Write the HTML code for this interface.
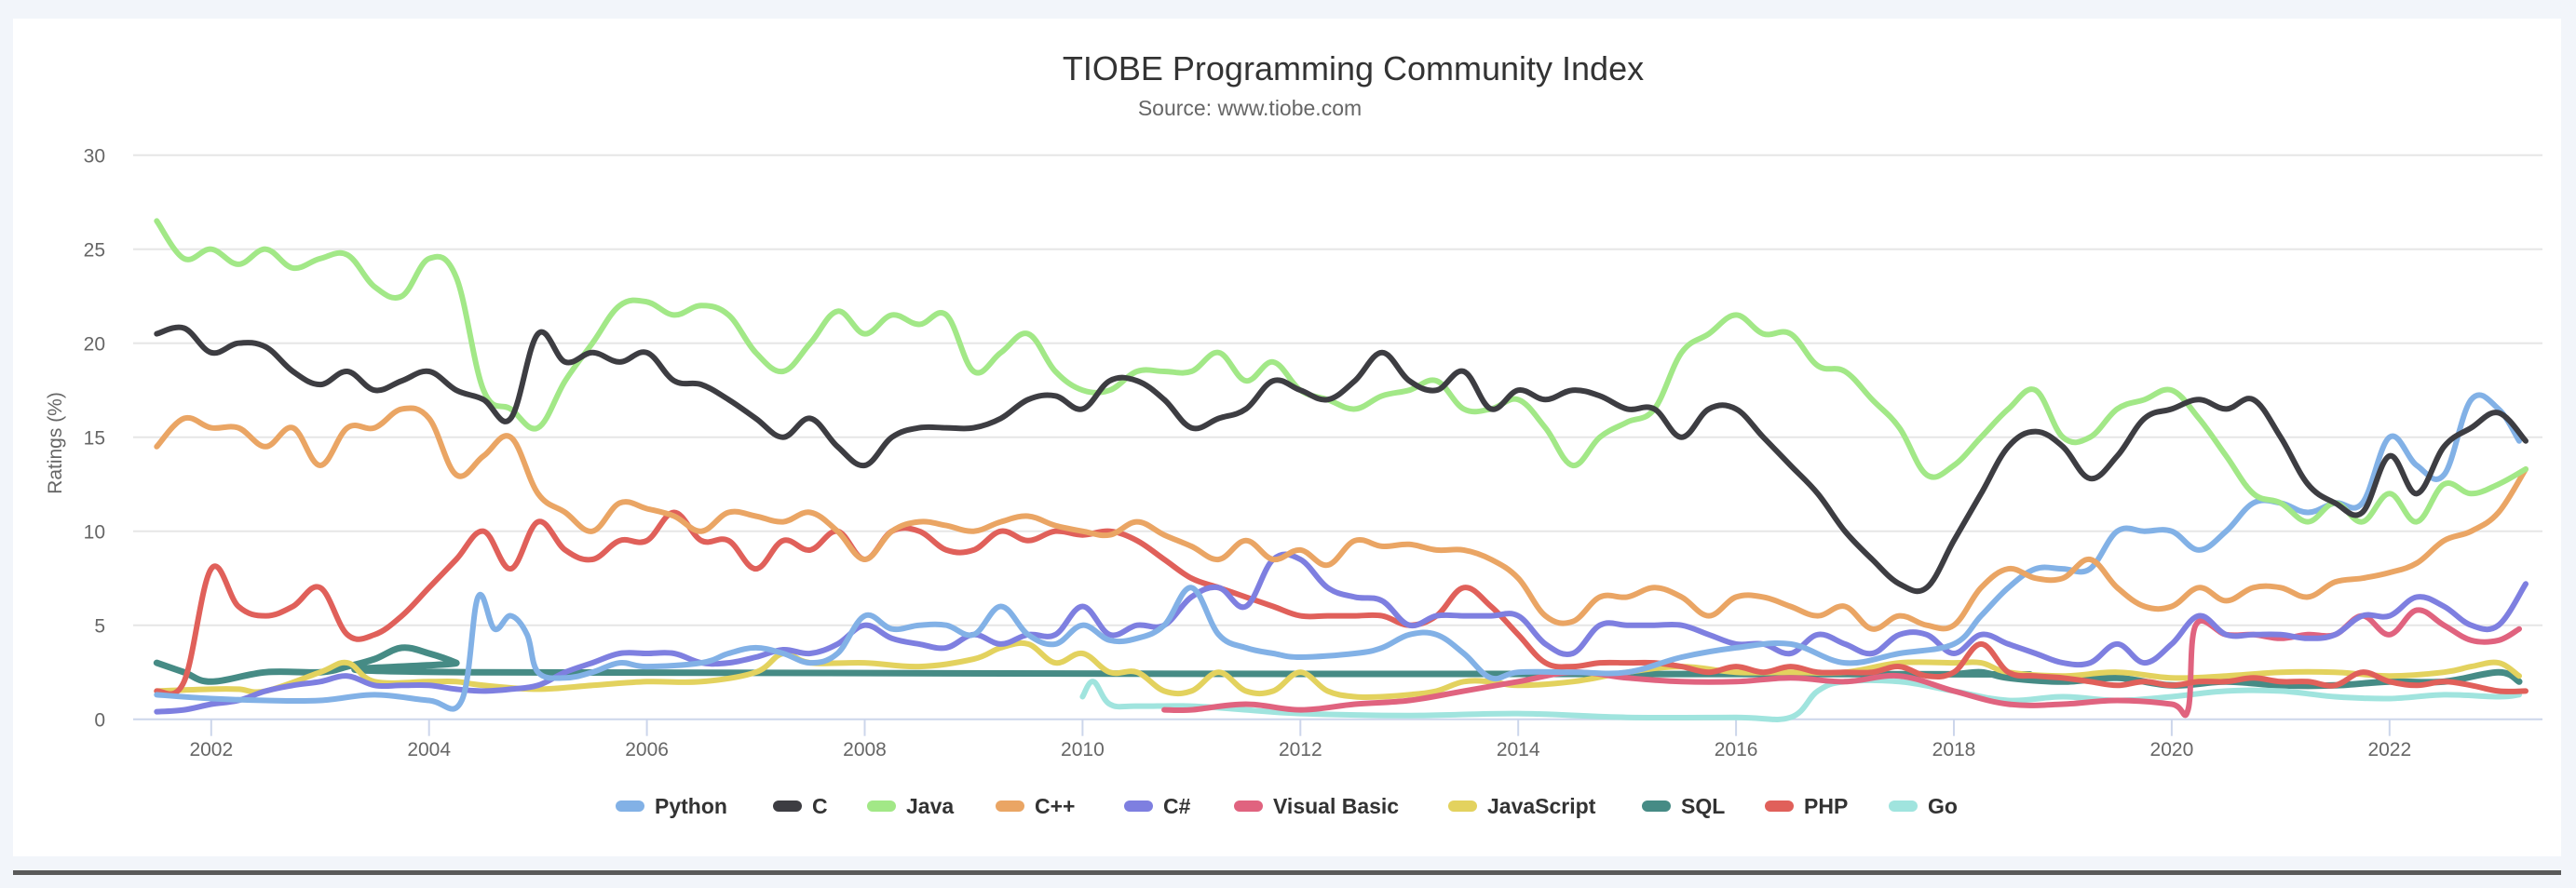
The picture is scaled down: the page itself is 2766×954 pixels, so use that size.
<!DOCTYPE html>
<html><head><meta charset="utf-8"><style>
html,body{margin:0;padding:0;background:#f2f5fa;}
body{width:2766px;height:954px;position:relative;overflow:hidden;font-family:"Liberation Sans",sans-serif;}
#card{position:absolute;left:14px;top:20px;width:2736px;height:900px;background:#fff;}
#bottomline{position:absolute;left:14px;top:935px;width:2736px;height:5px;background:#5a5a5a;}
svg{position:absolute;left:0;top:0;}
</style></head><body>
<div id="card"></div>
<div id="bottomline"></div>
<svg id="chart" width="2766" height="954">
<text x="1453" y="86" text-anchor="middle" font-size="36" fill="#333">TIOBE Programming Community Index</text>
<text x="1342" y="124" text-anchor="middle" font-size="23" fill="#666">Source: www.tiobe.com</text>
<text transform="translate(66,476) rotate(-90)" text-anchor="middle" font-size="21" fill="#666">Ratings (%)</text>
<g id="grid"></g><g id="series"></g><g id="legend"></g>
</svg>
<script>
const yTicks=[0,5,10,15,20,25,30];
const xTicks=[2002,2004,2006,2008,2010,2012,2014,2016,2018,2020,2022];
const seriesNames=["Python","C","Java","C++","C#","Visual Basic","JavaScript","SQL","PHP","Go"];
const seriesColors=["#82b1e6","#3d3d42","#a2e887","#eaa564","#7e7fe0","#e0637f","#e3d25e","#468b85","#e0605a","#a0e4de"];
const q=[];for(let y=2001.5;y<=2023.26;y+=0.25)q.push(+y.toFixed(2));
const pythonYears=[2001.5,2002,2002.5,2003,2003.5,2004,2004.3,2004.45,2004.6,2004.75,2004.9,2005,2005.25,2005.5,2005.75,2006,2006.5,2006.75,2007,2007.25,2007.5,2007.75,2008,2008.25,2008.5,2008.75,2009,2009.25,2009.5,2009.75,2010,2010.25,2010.5,2010.75,2011,2011.25,2011.5,2011.75,2012,2012.5,2012.75,2013,2013.25,2013.5,2013.75,2014,2014.5,2015,2015.5,2016,2016.5,2017,2017.5,2018,2018.25,2018.5,2018.75,2019,2019.25,2019.5,2019.75,2020,2020.25,2020.5,2020.75,2021,2021.25,2021.5,2021.75,2022,2022.25,2022.5,2022.75,2023,2023.19];
const pythonValues=[1.3,1.1,1,1,1.3,1.0,1.0,6.5,4.8,5.5,4.5,2.5,2.2,2.5,3,2.8,3,3.5,3.8,3.5,3,3.5,5.5,4.8,5,5,4.5,6,4.5,4,5,4.2,4.3,5,7,4.5,3.8,3.5,3.3,3.5,3.8,4.5,4.5,3.5,2.2,2.5,2.5,2.5,3.3,3.8,4,3,3.5,4,5.5,7,8,8,8,10,10,10,9,10,11.5,11.5,11,11.5,11.5,15,13.5,13,17,16.5,14.8];
const cValues=[20.5,20.8,19.5,20,19.8,18.5,17.8,18.5,17.5,18,18.5,17.5,17,16,20.5,19,19.5,19,19.5,18,17.8,17,16,15,16,14.5,13.5,15,15.5,15.5,15.5,16,17,17.2,16.5,18,18,17,15.5,16,16.5,18,17.5,17,18,19.5,18,17.5,18.5,16.5,17.5,17,17.5,17.2,16.5,16.5,15,16.5,16.5,15,13.5,12,10,8.5,7.2,7,9.5,12,14.5,15.3,14.5,12.8,14,16,16.5,17,16.5,17,15,12.5,11.5,11,14,12,14.5,15.5,16.3,14.8];
const javaValues=[26.5,24.5,25,24.2,25,24,24.5,24.7,23,22.5,24.5,23.5,17.5,16.5,15.5,18,20,22,22.2,21.5,22,21.5,19.5,18.5,20,21.7,20.5,21.5,21,21.5,18.5,19.5,20.5,18.5,17.5,17.5,18.5,18.5,18.5,19.5,18,19,17.5,17,16.5,17.2,17.5,18,16.5,16.5,17,15.5,13.5,15,15.8,16.5,19.5,20.5,21.5,20.5,20.5,18.8,18.5,17,15.5,13,13.5,15,16.5,17.5,15,15,16.5,17,17.5,16,14,12,11.5,10.5,11.5,10.5,12,10.5,12.5,12,12.5,13.3];
const cppValues=[14.5,16,15.5,15.5,14.5,15.5,13.5,15.5,15.5,16.5,16,13,14,15,12,11,10,11.5,11.2,10.8,10,11,10.8,10.5,11,10,8.5,10,10.5,10.3,10,10.5,10.8,10.3,10,9.8,10.5,9.8,9.2,8.5,9.5,8.5,9,8.2,9.5,9.2,9.3,9,9,8.5,7.5,5.5,5.2,6.5,6.5,7,6.5,5.5,6.5,6.5,6,5.5,6,4.8,5.5,5,5,7,8,7.5,7.5,8.5,7,6,6,7,6.3,7,7,6.5,7.3,7.5,7.8,8.3,9.5,10,11,13.3];
const csharpValues=[0.4,0.5,0.8,1,1.5,1.8,2,2.3,1.8,1.8,1.8,1.6,1.5,1.6,1.8,2.5,3,3.5,3.5,3.5,3,3,3.3,3.7,3.5,4,5,4.3,4,3.8,4.5,4,4.5,4.5,6,4.5,5,5,6.5,7,6,8.5,8.5,7,6.5,6.3,5,5.5,5.5,5.5,5.5,4,3.5,5,5,5,5,4.5,4,4,3.5,4.5,4,3.5,4.5,4.5,3.5,4.5,4,3.5,3,3,4,3,4,5.5,4.5,4.5,4.5,4.3,4.5,5.5,5.5,6.5,6,5,5,7.2];
const vbYears=[2010.75,2011,2011.5,2012,2012.5,2013,2013.5,2014,2014.5,2015,2015.5,2016,2016.5,2017,2017.5,2018,2018.5,2019,2019.5,2020,2020.15,2020.22,2020.5,2020.75,2021,2021.25,2021.5,2021.75,2022,2022.25,2022.5,2022.75,2023,2023.19];
const vbValues=[0.5,0.5,0.8,0.5,0.8,1,1.5,2,2.5,2.2,2,2,2.2,2,2.3,1.5,0.8,0.8,1,0.8,0.5,5,4.5,4.5,4.3,4.5,4.5,5.5,4.5,5.8,5,4.2,4.2,4.8];
const jsYears=[2001.5,2002,2002.25,2002.5,2003,2003.25,2003.5,2004,2004.25,2004.5,2005,2005.5,2006,2006.5,2007,2007.25,2007.5,2008,2008.5,2009,2009.25,2009.5,2009.75,2010,2010.25,2010.5,2010.75,2011,2011.25,2011.5,2011.75,2012,2012.25,2012.5,2012.75,2013,2013.25,2013.5,2013.75,2014,2014.5,2015,2015.5,2016,2016.5,2017,2017.5,2018,2018.25,2018.5,2019,2019.5,2020,2020.5,2021,2021.5,2022,2022.5,2022.75,2023,2023.19];
const jsValues=[1.5,1.6,1.6,1.5,2.5,3,2,2,2,1.8,1.6,1.8,2,2,2.5,3.5,3,3,2.8,3.2,3.8,4,3,3.5,2.5,2.5,1.5,1.5,2.5,1.5,1.5,2.5,1.5,1.2,1.2,1.3,1.5,2,2,1.8,2,2.5,2.8,2.5,2.5,2.5,3,3,3,2.5,2.3,2.5,2.2,2.3,2.5,2.5,2.3,2.5,2.8,3,2.3];
const sqlYears=[2001.5,2001.75,2002,2002.5,2003,2003.25,2003.5,2003.75,2004,2004.25,2004.4,2017.5,2018,2018.25,2018.5,2019,2019.5,2020,2020.5,2021,2021.5,2022,2022.5,2023,2023.19];
const sqlValues=[3,2.5,2,2.5,2.5,2.8,3.2,3.8,3.5,3,2.5,2.4,2.4,2.5,2.2,2,2.2,1.8,2,1.8,1.8,2,2,2.5,2];
const phpValues=[1.5,2,8,6,5.5,6,7,4.5,4.5,5.5,7,8.5,10,8,10.5,9,8.5,9.5,9.5,11,9.5,9.5,8,9.5,9,10,8.5,10,10,9,9,10,9.5,10,9.8,10,9.5,8.5,7.5,7,6.5,6,5.5,5.5,5.5,5.5,5,5.5,7,6,4.5,3,2.8,3,3,3,2.8,2.5,2.8,2.5,2.8,2.5,2.5,2.5,2.8,2.3,2.5,4,2.5,2.3,2.2,2,1.8,2,1.8,2,2,2.2,2,2,1.8,2.5,2,1.8,2,1.8,1.5,1.5];
const goYears=[2010,2010.1,2010.25,2010.5,2011,2011.5,2012,2013,2014,2015,2016,2016.5,2016.75,2017,2017.5,2018,2018.5,2019,2019.5,2020,2020.5,2021,2021.5,2022,2022.5,2023,2023.19];
const goValues=[1.2,2,0.8,0.7,0.7,0.5,0.3,0.2,0.3,0.1,0.1,0.1,1.5,2,2,1.5,1.0,1.2,1.0,1.2,1.5,1.5,1.2,1.1,1.3,1.2,1.3];

const L=143,R=2730,Y0=772.7,PX=20.2;
const xs=y=>226.8+(y-2002)*116.95;
const ys=v=>Y0-v*PX;
const NS="http://www.w3.org/2000/svg";
function mk(tag,attrs,parent){const e=document.createElementNS(NS,tag);for(const k in attrs)e.setAttribute(k,attrs[k]);parent.appendChild(e);return e;}
const grid=document.getElementById('grid');
yTicks.forEach(t=>{
  const ln=mk('line',{x1:L,x2:R,y1:ys(t),y2:ys(t),stroke:t===0?'#ccd6eb':'#e6e6e6','stroke-width':2},grid);
  
  
  const tx=mk('text',{x:113,y:ys(t)+8,'text-anchor':'end','font-size':21,fill:'#666'},grid);
  tx.textContent=t;
  
  
});
xTicks.forEach(t=>{
  const ln=mk('line',{x1:xs(t),x2:xs(t),y1:Y0,y2:Y0+18,stroke:'#ccd6eb','stroke-width':2},grid);
  
  
  const tx=mk('text',{x:xs(t),y:812,'text-anchor':'middle','font-size':21,fill:'#666'},grid);
  tx.textContent=t;
  
  
});
function path(px,py){
  const P=px.map((x,i)=>[xs(x),ys(py[i])]);
  let d='M'+P[0][0].toFixed(1)+','+P[0][1].toFixed(1);
  for(let i=0;i<P.length-1;i++){
    const p0=P[i-1]||P[i],p1=P[i],p2=P[i+1],p3=P[i+2]||P[i+1];
    const t=0.18;
    const c1=[p1[0]+(p2[0]-p0[0])*t,p1[1]+(p2[1]-p0[1])*t];
    const c2=[p2[0]-(p3[0]-p1[0])*t,p2[1]-(p3[1]-p1[1])*t];
    d+='C'+c1[0].toFixed(1)+','+c1[1].toFixed(1)+' '+c2[0].toFixed(1)+','+c2[1].toFixed(1)+' '+p2[0].toFixed(1)+','+p2[1].toFixed(1);
  }
  return d;
}
const seriesData=[[pythonYears,pythonValues],[q,cValues],[q,javaValues],[q,cppValues],[q,csharpValues],[vbYears,vbValues],[jsYears,jsValues],[sqlYears,sqlValues],[q,phpValues],[goYears,goValues]];
const order=[7,6,9,5,8,4,0,3,2,1];
const sg=document.getElementById('series');
order.forEach(i=>{
  const [xx,vv]=seriesData[i];
  const n=Math.min(xx.length,vv.length);
  const p=mk('path',{d:path(xx.slice(0,n),vv.slice(0,n)),fill:'none',stroke:seriesColors[i],'stroke-width':i===7?7:6,'stroke-linejoin':'round','stroke-linecap':'round'},sg);
  
  
});
const legendX=[661,830,931,1069,1207,1325,1555,1763,1895,2028];
const lg=document.getElementById('legend');
seriesNames.forEach((n,i)=>{
  const g=mk('g',{},lg);
  
  
  mk('rect',{x:legendX[i],y:860,width:31,height:12,rx:6,fill:seriesColors[i]},g);
  const t=mk('text',{x:legendX[i]+42,y:874,'font-size':23,'font-weight':'bold',fill:'#333'},g);
  t.textContent=n;
});
</script>
</body></html>
